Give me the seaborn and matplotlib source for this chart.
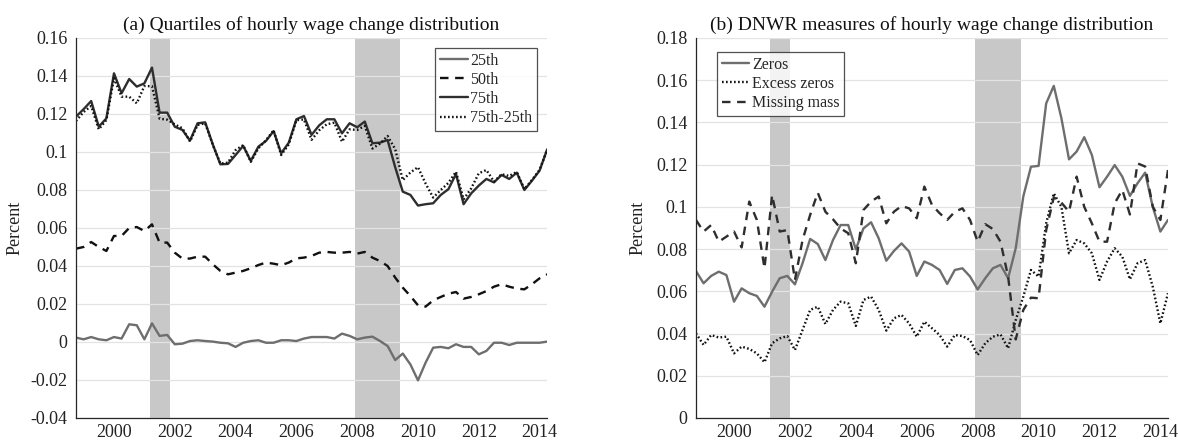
import numpy as np
import pandas as pd
import matplotlib
matplotlib.use("Agg")
import matplotlib.pyplot as plt
from matplotlib.ticker import FuncFormatter, FixedLocator
import seaborn as sns

# Quarterly observations, 1998Q4 .. 2014Q2
start_year = 1998.75
n_quarters = 63

# Panel (a): quartiles of hourly wage change distribution
p25 = [0.0023, 0.0014, 0.0026, 0.0014, 0.0009,
       0.0026, 0.0018, 0.0093, 0.0088,
       0.0014, 0.0098, 0.0032, 0.0037,
       -0.0012, -0.0009, 0.0005, 0.0009,
       0.0005, 0.0002, -0.0004, -0.0007,
       -0.0026, -0.0004, 0.0005, 0.0009,
       -0.0004, -0.0004, 0.0009, 0.0009,
       0.0005, 0.0018, 0.0026, 0.0026,
       0.0026, 0.0018, 0.0044, 0.0032,
       0.0014, 0.0023, 0.0028, 0.0005,
       -0.0021, -0.0095, -0.0061, -0.0118,
       -0.0202, -0.0109, -0.0030, -0.0026,
       -0.0033, -0.0012, -0.0026, -0.0026,
       -0.0065, -0.0047, -0.0004, -0.0004,
       -0.0016, -0.0004, -0.0004, -0.0004,
       -0.0004, 0.0002]
p50 = [0.0491, 0.0500, 0.0526, 0.0500, 0.0479,
       0.0558, 0.0558, 0.0600, 0.0605,
       0.0584, 0.0619, 0.0523, 0.0523,
       0.0470, 0.0439, 0.0439, 0.0449,
       0.0449, 0.0409, 0.0374, 0.0356,
       0.0365, 0.0374, 0.0388, 0.0405,
       0.0418, 0.0412, 0.0404, 0.0418,
       0.0440, 0.0444, 0.0453, 0.0470,
       0.0474, 0.0470, 0.0470, 0.0474,
       0.0465, 0.0474, 0.0444, 0.0426,
       0.0400, 0.0339, 0.0286, 0.0242,
       0.0193, 0.0186, 0.0219, 0.0237,
       0.0254, 0.0263, 0.0228, 0.0237,
       0.0251, 0.0268, 0.0291, 0.0304,
       0.0291, 0.0281, 0.0277, 0.0304,
       0.0335, 0.0356]
p75 = [0.1186, 0.1225, 0.1268, 0.1133, 0.1177,
       0.1414, 0.1309, 0.1384, 0.1344,
       0.1361, 0.1444, 0.1207, 0.1207,
       0.1133, 0.1116, 0.1060, 0.1151,
       0.1156, 0.1040, 0.0935, 0.0937,
       0.0984, 0.1032, 0.0953, 0.1028,
       0.1058, 0.1110, 0.0993, 0.1049,
       0.1172, 0.1189, 0.1090, 0.1140,
       0.1172, 0.1172, 0.1098, 0.1151,
       0.1130, 0.1160, 0.1046, 0.1049,
       0.1063, 0.0920, 0.0791, 0.0774,
       0.0718, 0.0725, 0.0730, 0.0774,
       0.0804, 0.0884, 0.0725, 0.0782,
       0.0823, 0.0858, 0.0840, 0.0879,
       0.0858, 0.0891, 0.0800, 0.0849,
       0.0902, 0.1014]
iqr = [0.1163, 0.1210, 0.1242, 0.1119, 0.1168,
       0.1388, 0.1291, 0.1291, 0.1256,
       0.1347, 0.1346, 0.1175, 0.1170,
       0.1145, 0.1125, 0.1055, 0.1142,
       0.1151, 0.1038, 0.0939, 0.0944,
       0.1010, 0.1036, 0.0948, 0.1019,
       0.1062, 0.1114, 0.0984, 0.1040,
       0.1167, 0.1171, 0.1064, 0.1114,
       0.1146, 0.1154, 0.1054, 0.1119,
       0.1116, 0.1137, 0.1018, 0.1044,
       0.1084, 0.1015, 0.0852, 0.0892,
       0.0920, 0.0834, 0.0760, 0.0800,
       0.0837, 0.0896, 0.0751, 0.0808,
       0.0888, 0.0905, 0.0844, 0.0883,
       0.0874, 0.0895, 0.0804, 0.0853,
       0.0906, 0.1012]

# Panel (b): DNWR measures
zeros = [0.0696, 0.0638, 0.0673, 0.0693, 0.0677,
         0.0551, 0.0614, 0.0591, 0.0578,
         0.0527, 0.0598, 0.0662, 0.0673,
         0.0633, 0.0733, 0.0848, 0.0824,
         0.0748, 0.0843, 0.0914, 0.0914,
         0.0799, 0.0898, 0.0927, 0.0851,
         0.0745, 0.0791, 0.0827, 0.0788,
         0.0673, 0.0741, 0.0725, 0.0701,
         0.0635, 0.0701, 0.0709, 0.0670,
         0.0609, 0.0662, 0.0709, 0.0725,
         0.0662, 0.0804, 0.1050, 0.1190,
         0.1194, 0.1490, 0.1573, 0.1420,
         0.1225, 0.1262, 0.1330, 0.1246,
         0.1093, 0.1143, 0.1198, 0.1143,
         0.1052, 0.1112, 0.1162, 0.1000,
         0.0883, 0.0938]
excess_zeros = [0.0401, 0.0346, 0.0393, 0.0381, 0.0385,
                0.0306, 0.0338, 0.0327, 0.0306,
                0.0264, 0.0354, 0.0377, 0.0388,
                0.0322, 0.0417, 0.0512, 0.0527,
                0.0445, 0.0512, 0.0551, 0.0543,
                0.0436, 0.0559, 0.0575, 0.0512,
                0.0414, 0.0472, 0.0488, 0.0448,
                0.0385, 0.0456, 0.0425, 0.0393,
                0.0338, 0.0393, 0.0388, 0.0369,
                0.0298, 0.0354, 0.0385, 0.0396,
                0.0330, 0.0464, 0.0575, 0.0701,
                0.0670, 0.0922, 0.1064, 0.1000,
                0.0780, 0.0843, 0.0827, 0.0780,
                0.0654, 0.0741, 0.0804, 0.0764,
                0.0657, 0.0733, 0.0748, 0.0622,
                0.0448, 0.0591]
missing_mass = [0.0938, 0.0883, 0.0914, 0.0835, 0.0859,
                0.0883, 0.0808, 0.1025, 0.0938,
                0.0709, 0.1056, 0.0883, 0.0890,
                0.0654, 0.0843, 0.0962, 0.1067,
                0.0977, 0.0941, 0.0898, 0.0875,
                0.0733, 0.0985, 0.1025, 0.1049,
                0.0922, 0.0977, 0.1004, 0.0993,
                0.0946, 0.1096, 0.1009, 0.0970,
                0.0938, 0.0977, 0.0993, 0.0938,
                0.0835, 0.0918, 0.0895, 0.0835,
                0.0670, 0.0372, 0.0512, 0.0570,
                0.0567, 0.0890, 0.1045, 0.1020,
                0.0977, 0.1143, 0.1000, 0.0922,
                0.0835, 0.0835, 0.1017, 0.1080,
                0.0964, 0.1206, 0.1191, 0.1001,
                0.0938, 0.1175]

# NBER recessions (2001M3-2001M11, 2007M12-2009M6)
recessions = [(2001.17, 2001.83), (2007.92, 2009.42)]

xtick_years = [2000, 2002, 2004, 2006, 2008, 2010, 2012, 2014]
left_yticks = [-0.04, -0.02, 0, 0.02, 0.04, 0.06, 0.08, 0.1, 0.12, 0.14, 0.16]
right_yticks = [0, 0.02, 0.04, 0.06, 0.08, 0.1, 0.12, 0.14, 0.16, 0.18]

title_a = "(a) Quartiles of hourly wage change distribution"
title_b = "(b) DNWR measures of hourly wage change distribution"

t = start_year + 0.25 * np.arange(n_quarters)
df = pd.DataFrame({"t": t, "p25": p25, "p50": p50, "p75": p75, "iqr": iqr,
                   "zeros": zeros, "excess": excess_zeros, "missing": missing_mass})

sns.set_style("white")
plt.rcParams["font.family"] = ["Liberation Serif", "DejaVu Serif"]
plt.rcParams["axes.unicode_minus"] = False

fig = plt.figure(figsize=(11.78, 4.44), dpi=100)
ax_a = fig.add_axes([0.0645, 0.0586, 0.4000, 0.8559])
ax_b = fig.add_axes([0.5908, 0.0586, 0.4007, 0.8559])

LW = 1.7
DOT = (0, (0.7, 1.0))
DASH = (0, (3.6, 2.8))


def style_axes(ax, yticks, ylim, title, ylabel_x):
    for a, b in recessions:
        ax.axvspan(a, b, color="#c8c8c8", lw=0, zorder=0)
    ax.set_xlim(t[0], t[-1])
    ax.set_ylim(*ylim)
    ax.yaxis.set_major_locator(FixedLocator(yticks))
    ax.yaxis.set_major_formatter(FuncFormatter(lambda v, p: "{:g}".format(round(v, 4))))
    ax.set_xticks(xtick_years)
    ax.set_xticklabels([str(y) for y in xtick_years])
    ax.grid(axis="y", color="#e3e3e3", lw=0.9, zorder=0.5)
    ax.grid(axis="x", visible=False)
    ax.set_axisbelow(True)
    for s in ("top", "right"):
        ax.spines[s].set_visible(False)
    for s in ("left", "bottom"):
        ax.spines[s].set_color("#262626")
        ax.spines[s].set_linewidth(0.9)
    ax.tick_params(axis="x", direction="in", length=4, width=0.8, color="#262626",
                   labelsize=13, pad=4, labelcolor="#222222")
    ax.tick_params(axis="y", direction="in", length=0, labelsize=13, pad=6,
                   labelcolor="#222222")
    ax.set_ylabel("Percent", fontsize=13, color="#222222")
    ax.yaxis.set_label_coords(ylabel_x, 0.5)
    ax.set_xlabel("")
    ax.set_title(title, fontsize=14, color="#111111", pad=6)


def add_legend(ax, loc, anchor):
    leg = ax.legend(loc=loc, bbox_to_anchor=anchor, fontsize=11.5,
                    frameon=True, fancybox=False, handlelength=1.75, handletextpad=0.15,
                    borderpad=0.3, labelspacing=0.2, borderaxespad=0.0)
    leg.get_frame().set_edgecolor("#262626")
    leg.get_frame().set_linewidth(0.9)
    return leg


# Panel (a)
sns.lineplot(data=df, x="t", y="p25", ax=ax_a, color="#6e6e6e", lw=LW, label="25th")
sns.lineplot(data=df, x="t", y="p50", ax=ax_a, color="#111111", lw=LW,
             linestyle=DASH, label="50th")
sns.lineplot(data=df, x="t", y="p75", ax=ax_a, color="#2e2e2e", lw=LW, label="75th")
sns.lineplot(data=df, x="t", y="iqr", ax=ax_a, color="#111111", lw=LW,
             linestyle=DOT, label="75th-25th")
style_axes(ax_a, left_yticks, (-0.04, 0.16), title_a, -0.112)
add_legend(ax_a, "upper right", (0.979, 0.974))

# Panel (b)
sns.lineplot(data=df, x="t", y="zeros", ax=ax_b, color="#6e6e6e", lw=LW, label="Zeros")
sns.lineplot(data=df, x="t", y="excess", ax=ax_b, color="#111111", lw=LW,
             linestyle=DOT, label="Excess zeros")
sns.lineplot(data=df, x="t", y="missing", ax=ax_b, color="#2e2e2e", lw=LW,
             linestyle=DASH, label="Missing mass")
style_axes(ax_b, right_yticks, (0, 0.18), title_b, -0.105)
add_legend(ax_b, "upper left", (0.044, 0.963))

fig.savefig("out.png", dpi=100)
